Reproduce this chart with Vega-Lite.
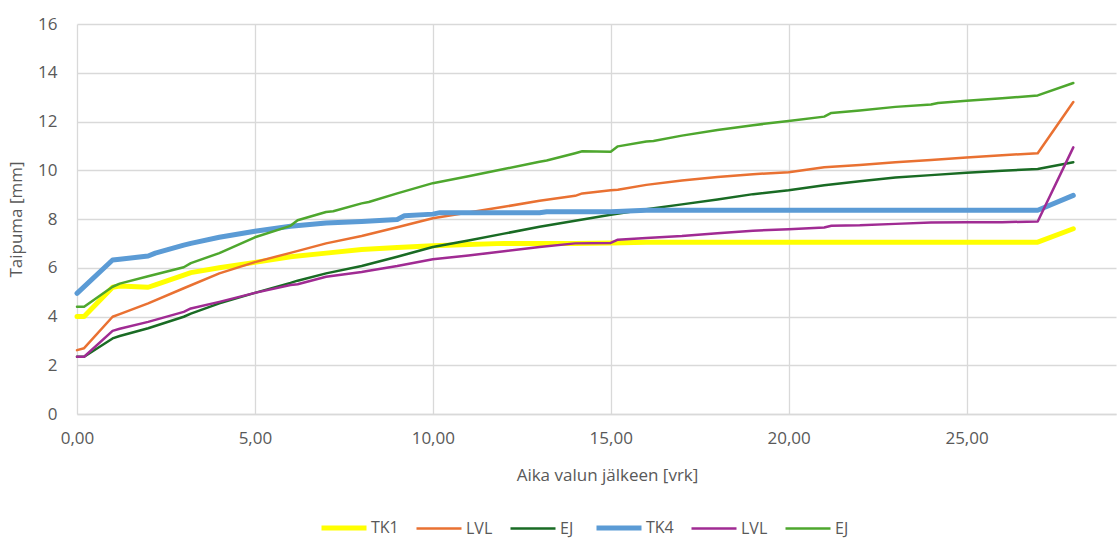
{
  "$schema": "https://vega.github.io/schema/vega-lite/v6.json",
  "autosize": {"type": "none"},
  "width": 1039,
  "height": 390,
  "padding": {"left": 77, "top": 24, "right": 4, "bottom": 125},
  "background": "white",
  "config": {
    "view": {"stroke": null},
    "font": "Open Sans",
    "axis": {"labelFont": "Open Sans", "titleFont": "Open Sans", "labelFontSize": 17, "titleFontSize": 17, "labelColor": "#595959", "titleColor": "#595959", "titleFontWeight": "normal", "gridColor": "#D9D9D9", "gridWidth": 1.3, "ticks": false},
    "legend": {"labelFont": "Open Sans", "labelFontSize": 16, "labelColor": "#595959", "padding": 0}
  },
  "data": {"values": [
    {"s":"TK1","x":0,"y":4.0},{"s":"TK1","x":0.2,"y":4.0},{"s":"TK1","x":1,"y":5.2},{"s":"TK1","x":1.2,"y":5.25},{"s":"TK1","x":2,"y":5.2},{"s":"TK1","x":2.2,"y":5.3},{"s":"TK1","x":3,"y":5.7},{"s":"TK1","x":3.2,"y":5.8},{"s":"TK1","x":4,"y":6.0},{"s":"TK1","x":5,"y":6.22},{"s":"TK1","x":6,"y":6.45},{"s":"TK1","x":7,"y":6.6},{"s":"TK1","x":8,"y":6.75},{"s":"TK1","x":9,"y":6.83},{"s":"TK1","x":10,"y":6.9},{"s":"TK1","x":11,"y":6.95},{"s":"TK1","x":12,"y":7.0},{"s":"TK1","x":13,"y":7.0},{"s":"TK1","x":14,"y":7.0},{"s":"TK1","x":15,"y":7.02},{"s":"TK1","x":16,"y":7.05},{"s":"TK1","x":17,"y":7.05},{"s":"TK1","x":18,"y":7.05},{"s":"TK1","x":19,"y":7.05},{"s":"TK1","x":20,"y":7.05},{"s":"TK1","x":21,"y":7.05},{"s":"TK1","x":22,"y":7.05},{"s":"TK1","x":23,"y":7.05},{"s":"TK1","x":24,"y":7.05},{"s":"TK1","x":25,"y":7.05},{"s":"TK1","x":26,"y":7.05},{"s":"TK1","x":27,"y":7.05},{"s":"TK1","x":28,"y":7.6},
    {"s":"LVL 1","x":0,"y":2.62},{"s":"LVL 1","x":0.2,"y":2.7},{"s":"LVL 1","x":1,"y":3.99},{"s":"LVL 1","x":1.2,"y":4.1},{"s":"LVL 1","x":2,"y":4.54},{"s":"LVL 1","x":3,"y":5.16},{"s":"LVL 1","x":4,"y":5.77},{"s":"LVL 1","x":5,"y":6.23},{"s":"LVL 1","x":6,"y":6.61},{"s":"LVL 1","x":7,"y":7.0},{"s":"LVL 1","x":8,"y":7.3},{"s":"LVL 1","x":9,"y":7.66},{"s":"LVL 1","x":10,"y":8.03},{"s":"LVL 1","x":11,"y":8.27},{"s":"LVL 1","x":12,"y":8.5},{"s":"LVL 1","x":13,"y":8.75},{"s":"LVL 1","x":14,"y":8.95},{"s":"LVL 1","x":14.2,"y":9.05},{"s":"LVL 1","x":15,"y":9.18},{"s":"LVL 1","x":15.2,"y":9.2},{"s":"LVL 1","x":16,"y":9.4},{"s":"LVL 1","x":17,"y":9.58},{"s":"LVL 1","x":18,"y":9.72},{"s":"LVL 1","x":19,"y":9.84},{"s":"LVL 1","x":20,"y":9.92},{"s":"LVL 1","x":21,"y":10.12},{"s":"LVL 1","x":22,"y":10.22},{"s":"LVL 1","x":23,"y":10.33},{"s":"LVL 1","x":24,"y":10.42},{"s":"LVL 1","x":25,"y":10.52},{"s":"LVL 1","x":26,"y":10.62},{"s":"LVL 1","x":27,"y":10.7},{"s":"LVL 1","x":28,"y":12.8},
    {"s":"EJ 1","x":0,"y":2.35},{"s":"EJ 1","x":0.2,"y":2.35},{"s":"EJ 1","x":1,"y":3.1},{"s":"EJ 1","x":1.2,"y":3.2},{"s":"EJ 1","x":2,"y":3.52},{"s":"EJ 1","x":3,"y":3.99},{"s":"EJ 1","x":3.2,"y":4.12},{"s":"EJ 1","x":4,"y":4.54},{"s":"EJ 1","x":5,"y":4.97},{"s":"EJ 1","x":6,"y":5.38},{"s":"EJ 1","x":6.2,"y":5.47},{"s":"EJ 1","x":7,"y":5.77},{"s":"EJ 1","x":8,"y":6.07},{"s":"EJ 1","x":9,"y":6.45},{"s":"EJ 1","x":10,"y":6.85},{"s":"EJ 1","x":11,"y":7.12},{"s":"EJ 1","x":12,"y":7.4},{"s":"EJ 1","x":13,"y":7.68},{"s":"EJ 1","x":14,"y":7.93},{"s":"EJ 1","x":15,"y":8.17},{"s":"EJ 1","x":16,"y":8.4},{"s":"EJ 1","x":17,"y":8.6},{"s":"EJ 1","x":18,"y":8.8},{"s":"EJ 1","x":19,"y":9.02},{"s":"EJ 1","x":20,"y":9.18},{"s":"EJ 1","x":21,"y":9.38},{"s":"EJ 1","x":22,"y":9.55},{"s":"EJ 1","x":23,"y":9.7},{"s":"EJ 1","x":24,"y":9.8},{"s":"EJ 1","x":25,"y":9.9},{"s":"EJ 1","x":26,"y":9.98},{"s":"EJ 1","x":27,"y":10.05},{"s":"EJ 1","x":28,"y":10.33},
    {"s":"TK4","x":0,"y":4.95},{"s":"TK4","x":1,"y":6.32},{"s":"TK4","x":1.2,"y":6.35},{"s":"TK4","x":2,"y":6.48},{"s":"TK4","x":2.2,"y":6.6},{"s":"TK4","x":3,"y":6.93},{"s":"TK4","x":3.2,"y":7.0},{"s":"TK4","x":4,"y":7.25},{"s":"TK4","x":5,"y":7.5},{"s":"TK4","x":6,"y":7.7},{"s":"TK4","x":7,"y":7.84},{"s":"TK4","x":8,"y":7.9},{"s":"TK4","x":9,"y":7.98},{"s":"TK4","x":9.2,"y":8.13},{"s":"TK4","x":10,"y":8.2},{"s":"TK4","x":10.2,"y":8.26},{"s":"TK4","x":11,"y":8.26},{"s":"TK4","x":12,"y":8.26},{"s":"TK4","x":13,"y":8.26},{"s":"TK4","x":13.2,"y":8.3},{"s":"TK4","x":14,"y":8.3},{"s":"TK4","x":15,"y":8.3},{"s":"TK4","x":16,"y":8.36},{"s":"TK4","x":17,"y":8.36},{"s":"TK4","x":18,"y":8.36},{"s":"TK4","x":19,"y":8.36},{"s":"TK4","x":20,"y":8.36},{"s":"TK4","x":21,"y":8.36},{"s":"TK4","x":22,"y":8.36},{"s":"TK4","x":23,"y":8.36},{"s":"TK4","x":24,"y":8.36},{"s":"TK4","x":25,"y":8.36},{"s":"TK4","x":26,"y":8.36},{"s":"TK4","x":27,"y":8.36},{"s":"TK4","x":28,"y":8.97},
    {"s":"LVL 2","x":0,"y":2.35},{"s":"LVL 2","x":0.2,"y":2.35},{"s":"LVL 2","x":1,"y":3.41},{"s":"LVL 2","x":1.2,"y":3.5},{"s":"LVL 2","x":2,"y":3.78},{"s":"LVL 2","x":3,"y":4.19},{"s":"LVL 2","x":3.2,"y":4.33},{"s":"LVL 2","x":4,"y":4.6},{"s":"LVL 2","x":5,"y":4.97},{"s":"LVL 2","x":6,"y":5.29},{"s":"LVL 2","x":6.2,"y":5.32},{"s":"LVL 2","x":7,"y":5.63},{"s":"LVL 2","x":8,"y":5.83},{"s":"LVL 2","x":8.2,"y":5.88},{"s":"LVL 2","x":9,"y":6.07},{"s":"LVL 2","x":10,"y":6.35},{"s":"LVL 2","x":11,"y":6.5},{"s":"LVL 2","x":12,"y":6.68},{"s":"LVL 2","x":13,"y":6.85},{"s":"LVL 2","x":14,"y":7.0},{"s":"LVL 2","x":15,"y":7.02},{"s":"LVL 2","x":15.2,"y":7.15},{"s":"LVL 2","x":16,"y":7.22},{"s":"LVL 2","x":17,"y":7.3},{"s":"LVL 2","x":18,"y":7.42},{"s":"LVL 2","x":19,"y":7.52},{"s":"LVL 2","x":20,"y":7.58},{"s":"LVL 2","x":21,"y":7.65},{"s":"LVL 2","x":21.2,"y":7.72},{"s":"LVL 2","x":22,"y":7.74},{"s":"LVL 2","x":23,"y":7.8},{"s":"LVL 2","x":24,"y":7.86},{"s":"LVL 2","x":25,"y":7.87},{"s":"LVL 2","x":26,"y":7.87},{"s":"LVL 2","x":27,"y":7.9},{"s":"LVL 2","x":28,"y":10.94},
    {"s":"EJ 2","x":0,"y":4.4},{"s":"EJ 2","x":0.2,"y":4.4},{"s":"EJ 2","x":1,"y":5.22},{"s":"EJ 2","x":1.2,"y":5.35},{"s":"EJ 2","x":2,"y":5.65},{"s":"EJ 2","x":3,"y":6.02},{"s":"EJ 2","x":3.2,"y":6.19},{"s":"EJ 2","x":4,"y":6.6},{"s":"EJ 2","x":5,"y":7.25},{"s":"EJ 2","x":6,"y":7.72},{"s":"EJ 2","x":6.2,"y":7.95},{"s":"EJ 2","x":7,"y":8.29},{"s":"EJ 2","x":7.2,"y":8.32},{"s":"EJ 2","x":8,"y":8.64},{"s":"EJ 2","x":8.2,"y":8.7},{"s":"EJ 2","x":9,"y":9.05},{"s":"EJ 2","x":10,"y":9.47},{"s":"EJ 2","x":11,"y":9.75},{"s":"EJ 2","x":12,"y":10.05},{"s":"EJ 2","x":13,"y":10.35},{"s":"EJ 2","x":13.2,"y":10.4},{"s":"EJ 2","x":14,"y":10.7},{"s":"EJ 2","x":14.2,"y":10.78},{"s":"EJ 2","x":15,"y":10.76},{"s":"EJ 2","x":15.2,"y":10.98},{"s":"EJ 2","x":16,"y":11.18},{"s":"EJ 2","x":16.2,"y":11.2},{"s":"EJ 2","x":17,"y":11.42},{"s":"EJ 2","x":18,"y":11.65},{"s":"EJ 2","x":19,"y":11.85},{"s":"EJ 2","x":20,"y":12.02},{"s":"EJ 2","x":21,"y":12.2},{"s":"EJ 2","x":21.2,"y":12.35},{"s":"EJ 2","x":22,"y":12.45},{"s":"EJ 2","x":23,"y":12.6},{"s":"EJ 2","x":24,"y":12.7},{"s":"EJ 2","x":24.2,"y":12.76},{"s":"EJ 2","x":25,"y":12.85},{"s":"EJ 2","x":26,"y":12.95},{"s":"EJ 2","x":27,"y":13.07},{"s":"EJ 2","x":28,"y":13.58}
  ]},
  "mark": {"type": "line", "strokeCap": "round", "strokeJoin": "round"},
  "encoding": {
    "x": {"field": "x", "type": "quantitative",
      "scale": {"domain": [0, 29.2], "nice": false, "zero": false},
      "axis": {"values": [0, 5, 10, 15, 20, 25], "labelExpr": "replace(format(datum.value, '.2f'), '.', ',')", "title": "Aika valun jälkeen [vrk]", "titlePadding": 21, "labelPadding": 16, "domainColor": "#D9D9D9", "domainWidth": 1.3, "labelFlush": false, "titleX": 530}},
    "y": {"field": "y", "type": "quantitative",
      "scale": {"domain": [0, 16], "nice": false},
      "axis": {"values": [0, 2, 4, 6, 8, 10, 12, 14, 16], "title": "Taipuma [mm]", "labelPadding": 20, "titlePadding": 12, "domain": false}},
    "color": {"field": "s", "type": "nominal",
      "scale": {"domain": ["TK1", "LVL 1", "EJ 1", "TK4", "LVL 2", "EJ 2"], "range": ["#FFFF00", "#E97132", "#196B24", "#5B9BD5", "#A02B93", "#4EA72E"]},
      "legend": {"title": null, "orient": "none", "legendX": 242, "legendY": 479, "direction": "horizontal", "columns": 6, "symbolType": "stroke", "symbolSize": 2025, "labelOffset": 2, "columnPadding": 12, "labelExpr": "split(datum.label, ' ')[0]"}},
    "strokeWidth": {"field": "s", "type": "nominal",
      "scale": {"type": "ordinal", "domain": ["TK1", "LVL 1", "EJ 1", "TK4", "LVL 2", "EJ 2"], "range": [5, 2.5, 2.5, 5, 2.5, 2.5]},
      "legend": {"title": null, "orient": "none", "legendX": 242, "legendY": 479, "direction": "horizontal", "columns": 6, "symbolType": "stroke", "symbolSize": 2025, "labelOffset": 2, "columnPadding": 12, "labelExpr": "split(datum.label, ' ')[0]"}},
    "order": {"field": "x", "type": "quantitative"}
  }
}
